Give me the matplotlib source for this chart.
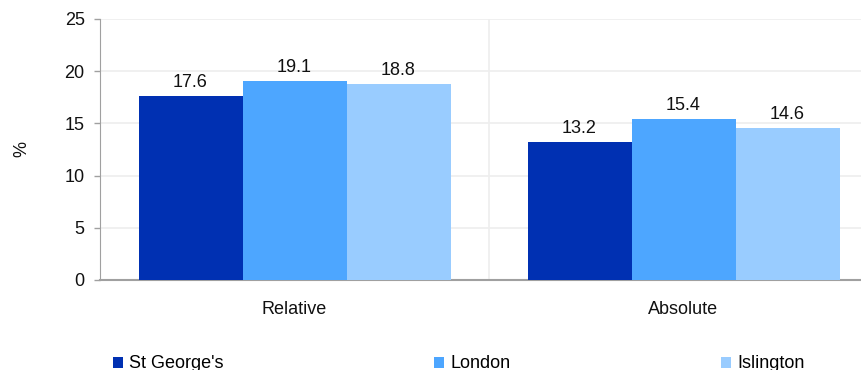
import numpy as np
import matplotlib.pyplot as plt
from matplotlib.patches import Patch

plt.rcParams['font.family'] = ['Liberation Sans', 'DejaVu Sans']

categories = ['Relative', 'Absolute']
series_names = ["St George's", 'London', 'Islington']
st_georges = [17.6, 13.2]
london = [19.1, 15.4]
islington = [18.8, 14.6]
colors = ['#0030b2', '#4da6ff', '#99ccff']

fig = plt.figure(figsize=(8.61, 3.70), dpi=100)
ax = fig.add_axes([100 / 861, 90 / 370, 761 / 861, 261 / 370])

x = np.arange(len(categories))
width = 104 / 389
for i, (vals, col) in enumerate(zip([st_georges, london, islington], colors)):
    bars = ax.bar(x + (i - 1) * width, vals, width, color=col, zorder=3)
    for b, v in zip(bars, vals):
        ax.annotate(f'{v:.1f}', (b.get_x() + b.get_width() / 2, v),
                    xytext=(0, 3.5), textcoords='offset points',
                    ha='center', va='bottom', fontsize=13, color='#111111')

ax.set_xlim(-0.5, -0.5 + 761 / 389)
ax.set_ylim(0, 25)
ax.set_yticks(range(0, 26, 5))
ax.set_xticks(x, categories)
ax.tick_params(axis='x', length=0, pad=15, labelsize=13, colors='#111111')
ax.tick_params(axis='y', length=4, width=1, color='#a0a0a0', pad=7,
               labelsize=13, labelcolor='#111111')

# grid
ax.yaxis.grid(True, color='#eeeeee', lw=1.2, zorder=0)
ax.axvline(0.5, color='#eeeeee', lw=1.2, zorder=0)
for s in ['top', 'right']:
    ax.spines[s].set_visible(False)
ax.spines['left'].set_color('#a0a0a0')
ax.spines['bottom'].set_color('#a0a0a0')
ax.spines['bottom'].set_linewidth(1.5)

ax.set_ylabel('%', fontsize=13, color='#111111')
ax.yaxis.set_label_coords(-0.092, 0.5)

handles = [Patch(facecolor=c, edgecolor='none') for c in colors]
fig.legend(handles, series_names, ncol=3, mode='expand', frameon=False,
           bbox_to_anchor=(113 / 861, 6 / 370, 692 / 861, 0), loc='center',
           borderpad=0, borderaxespad=0, fontsize=13,
           handlelength=0.55, handleheight=0.55, handletextpad=0.35)

fig.savefig('out.png', dpi=100)
